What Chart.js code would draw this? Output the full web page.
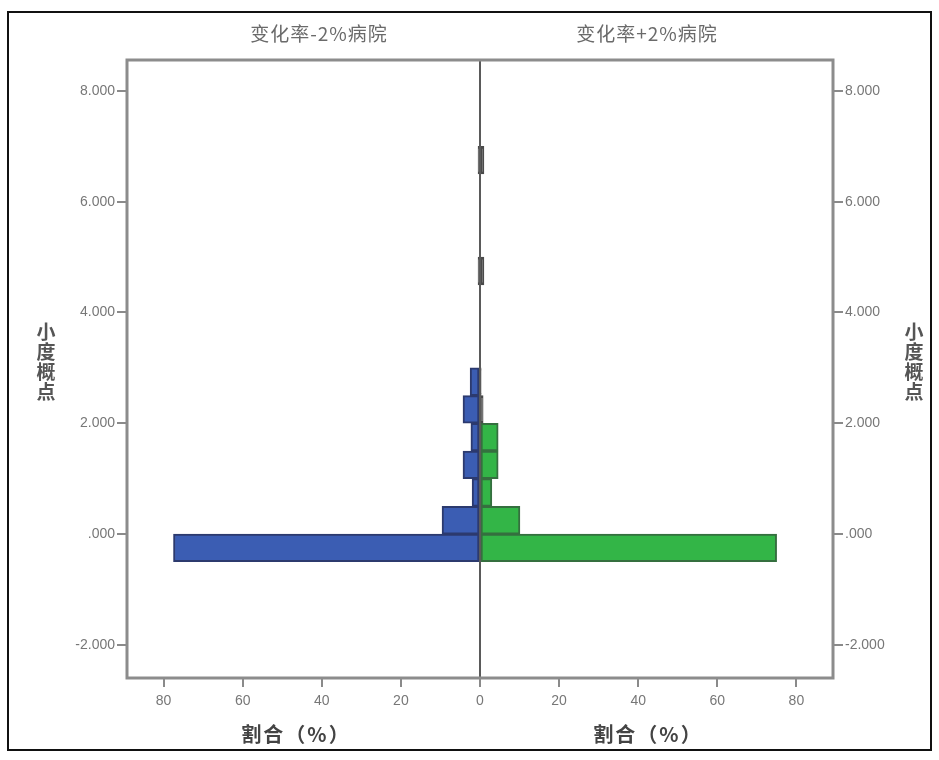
<!DOCTYPE html>
<html>
<head>
<meta charset="utf-8">
<script src="https://cdn.jsdelivr.net/npm/chart.js@4.4.1/dist/chart.umd.min.js"></script>
<style>
html,body{margin:0;padding:0;background:#fff;}
canvas{display:block;}
</style>
</head>
<body>
<canvas id="c" width="939" height="760"></canvas>
<script>
// ---- data ----
const binCenters   = [-0.25, 0.25, 0.75, 1.25, 1.75, 2.25, 2.75, 3.25, 3.75, 4.25, 4.75, 5.25, 5.75, 6.25, 6.75];
const minus2Values = [77.5, 9.6, 2.0, 4.3, 2.3, 4.3, 2.5, 0, 0, 0, 0.5, 0, 0, 0, 0.5];   // 变化率-2%病院 (%)
const plus2Values  = [75.0, 10.1, 3.0, 4.6, 4.6, 0.8, 0.3, 0, 0, 0, 1.0, 0, 0, 0, 1.0];  // 变化率+2%病院 (%)
const yTickValues  = [-2, 0, 2, 4, 6, 8];
const yTickLabels  = ["-2.000", ".000", "2.000", "4.000", "6.000", "8.000"];
const xTickValues  = [-80, -60, -40, -20, 0, 20, 40, 60, 80];
const xTickLabels  = ["80", "60", "40", "20", "0", "20", "40", "60", "80"];
const panelTitles  = ["变化率-2%病院", "变化率+2%病院"];
const xAxisTitle   = "割合（%）";
const yAxisTitle   = "小度概点";

const CJK = '"Noto Sans CJK SC", "Noto Sans", sans-serif';
const NUM = '"Liberation Sans", Arial, sans-serif';

const decor = {
  id: 'decor',
  afterDatasetsDraw(chart) {
    const {ctx, chartArea: a, scales} = chart;
    const x0 = scales.x.getPixelForValue(0);
    ctx.save();
    ctx.strokeStyle = '#5a5a5a';
    ctx.lineWidth = 2;
    ctx.beginPath();
    ctx.moveTo(x0, a.top);
    ctx.lineTo(x0, a.bottom);
    ctx.stroke();
    ctx.restore();
  },
  afterDraw(chart) {
    const {ctx, chartArea: a, scales} = chart;
    const x0 = scales.x.getPixelForValue(0);
    ctx.save();
    // plot frame
    ctx.strokeStyle = '#8c8c8c';
    ctx.lineWidth = 3;
    ctx.strokeRect(a.left - 1, a.top - 1, a.right - a.left + 2, a.bottom - a.top + 2);
    // outer border
    ctx.strokeStyle = '#111';
    ctx.lineWidth = 2;
    ctx.strokeRect(8, 12, 923, 738);
    // panel titles
    ctx.fillStyle = '#6a6a6a';
    ctx.font = '19px ' + CJK;
    ctx.letterSpacing = '1px';
    ctx.textAlign = 'center';
    ctx.textBaseline = 'middle';
    ctx.fillText(panelTitles[0], (a.left + x0) / 2 + 15, 34);
    ctx.fillText(panelTitles[1], (x0 + a.right) / 2 - 9, 34);
    // x axis titles
    ctx.fillStyle = '#444';
    ctx.font = 'bold 20px ' + CJK;
    ctx.letterSpacing = '2px';
    ctx.fillText(xAxisTitle, (a.left + x0) / 2 - 8, 734);
    ctx.fillText(xAxisTitle, (x0 + a.right) / 2 - 8, 734);
    ctx.letterSpacing = '0px';
    // vertical y axis titles (stacked characters)
    const chars = Array.from(yAxisTitle);
    const step = 20;
    const yStart = 332;
    ctx.font = 'bold 19px ' + CJK;
    ctx.fillStyle = '#555';
    chars.forEach((ch, i) => {
      ctx.fillText(ch, 46, yStart + i * step);
      ctx.fillText(ch, 914, yStart + i * step);
    });
    ctx.restore();
  }
};

const yTickCfg = {
  font: {family: NUM, size: 14},
  color: '#777',
  padding: 2,
  callback: (v, i) => yTickLabels[i]
};

const tinyDark = (base) => (c) => (c.raw && Math.abs(c.raw.x) <= 1 ? '#4a4a4a' : base);

new Chart(document.getElementById('c'), {
  type: 'bar',
  data: {
    datasets: [
      {
        label: panelTitles[0],
        data: binCenters.map((c, i) => ({x: -minus2Values[i], y: c})),
        backgroundColor: tinyDark('#3b5db3'),
        borderColor: tinyDark('#2c3a6e'),
        borderWidth: 2,
        borderSkipped: false,
        grouped: false,
        barPercentage: 1,
        categoryPercentage: 1,
        yAxisID: 'y'
      },
      {
        label: panelTitles[1],
        data: binCenters.map((c, i) => ({x: plus2Values[i], y: c})),
        backgroundColor: tinyDark('#33b547'),
        borderColor: tinyDark('#356f3f'),
        borderWidth: 2,
        borderSkipped: false,
        grouped: false,
        barPercentage: 1,
        categoryPercentage: 1,
        yAxisID: 'y'
      }
    ]
  },
  options: {
    indexAxis: 'y',
    responsive: false,
    animation: false,
    devicePixelRatio: 1,
    layout: {padding: {top: 61, left: 0, right: 0, bottom: 0}},
    plugins: {legend: {display: false}, tooltip: {enabled: false}, title: {display: false}},
    scales: {
      x: {
        type: 'linear',
        min: -89, max: 89,
        afterBuildTicks: s => { s.ticks = xTickValues.map(v => ({value: v})); },
        afterFit: s => { s.height = 83; },
        ticks: {
          font: {family: NUM, size: 14},
          color: '#777',
          padding: 6,
          maxRotation: 0,
          autoSkip: false,
          callback: (v, i) => xTickLabels[i]
        },
        grid: {drawOnChartArea: false, drawTicks: true, tickLength: 10, color: '#8a8a8a', lineWidth: 2},
        border: {display: false}
      },
      y: {
        type: 'linear',
        position: 'left',
        offset: false,
        min: -2.58, max: 8.54,
        afterBuildTicks: s => { s.ticks = yTickValues.map(v => ({value: v})); },
        afterFit: s => { s.width = 128; },
        ticks: yTickCfg,
        grid: {drawOnChartArea: false, drawTicks: true, tickLength: 11, color: '#8a8a8a', lineWidth: 2, offset: false},
        border: {display: false}
      },
      y2: {
        type: 'linear',
        position: 'right',
        offset: false,
        min: -2.58, max: 8.54,
        afterBuildTicks: s => { s.ticks = yTickValues.map(v => ({value: v})); },
        afterFit: s => { s.width = 107; },
        ticks: yTickCfg,
        grid: {drawOnChartArea: false, drawTicks: true, tickLength: 11, color: '#8a8a8a', lineWidth: 2, offset: false},
        border: {display: false}
      }
    }
  },
  plugins: [decor]
});
</script>
</body>
</html>
